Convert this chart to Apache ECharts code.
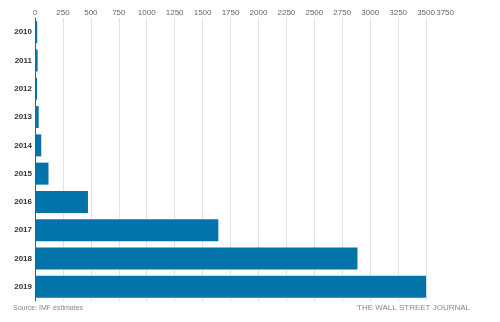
<!DOCTYPE html>
<html><head><meta charset="utf-8">
<script src="https://cdn.jsdelivr.net/npm/echarts@6/dist/echarts.min.js"></script>
<style>html,body{margin:0;padding:0;background:#fff}#c{width:500px;height:322px}</style>
</head><body><div id="c"></div>
<script>
var years = ['2010','2011','2012','2013','2014','2015','2016','2017','2018','2019'];
var values = [20, 24, 18, 33, 56, 121, 474, 1641, 2886, 3500];
var xMin = 0, xMax = 3750, xStep = 250;
var sourceText = 'Source: IMF estimates';
var creditText = 'THE WALL STREET JOURNAL';

var chart = echarts.init(document.getElementById('c'), null, {renderer:'canvas'});
chart.setOption({
  animation: false,
  textStyle: {fontFamily: 'Liberation Sans, Arial, sans-serif'},
  grid: {left: 35, right: 46, top: 18, bottom: 21, containLabel: false},
  xAxis: {
    type: 'value', position: 'top', min: xMin, max: xMax, interval: xStep,
    axisLine: {show: false}, axisTick: {show: false},
    axisLabel: {color: '#666', fontSize: 8, margin: 1, showMaxLabel: true, hideOverlap: false,
      alignMaxLabel: 'right', formatter: function (v) { return String(v); }},
    splitLine: {show: true, showMaxLine: false, lineStyle: {color: '#e3e3e3', width: 1}}
  },
  yAxis: {
    type: 'category', data: years, inverse: true,
    axisLine: {show: true, lineStyle: {color: '#555', width: 1}},
    axisTick: {show: false},
    axisLabel: {color: '#333', fontSize: 8, fontWeight: 'bold', margin: 3}
  },
  series: [{
    type: 'bar', data: values, barWidth: 22,
    itemStyle: {color: '#0274aa'}
  }],
  graphic: [
    {type: 'text', left: 13, top: 305, style: {text: sourceText, fill: '#888', fontSize: 7, fontFamily: 'Liberation Sans, Arial, sans-serif'}},
    {type: 'text', left: 357, top: 304, style: {text: creditText, fill: '#888', fontSize: 8, fontFamily: 'Liberation Sans, Arial, sans-serif'}}
  ]
});
</script></body></html>
